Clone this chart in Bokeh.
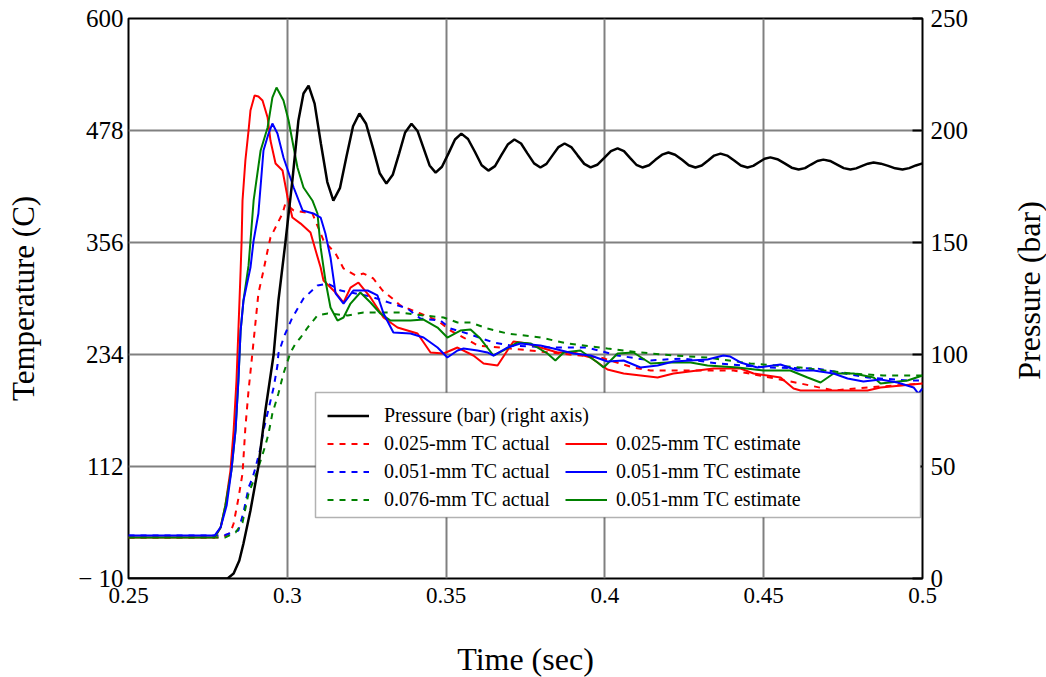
import math
from bokeh.plotting import figure
from bokeh.layouts import row
from bokeh.models import (Range1d, LinearAxis, FixedTicker, Legend, LegendItem,
                          BoxAnnotation)
from bokeh.embed import file_html
from bokeh.resources import INLINE

# ---------------- data ----------------
# Pressure (bar), right axis
p_time = [0.25, 0.2812, 0.2831, 0.2849, 0.2862, 0.2884, 0.2909, 0.2931, 0.2957, 0.2972,
          0.2994, 0.3016, 0.3035, 0.3051, 0.3067,
          0.3086, 0.3106, 0.3126, 0.3145,
          0.3166, 0.3186, 0.3207, 0.3227,
          0.3248, 0.3270, 0.3291, 0.3312,
          0.3332, 0.3352, 0.3371, 0.3391,
          0.3410, 0.3429, 0.3448, 0.3467,
          0.3487, 0.3508, 0.3528, 0.3548,
          0.3569, 0.3591, 0.3612, 0.3633,
          0.3654, 0.3674, 0.3695, 0.3715,
          0.3736, 0.3756, 0.3777, 0.3797,
          0.3816, 0.3835, 0.3854, 0.3873,
          0.3894, 0.3914, 0.3935, 0.3955,
          0.3976, 0.3998, 0.4019, 0.4040,
          0.4060, 0.4079, 0.4099, 0.4118,
          0.4139, 0.4159, 0.4180, 0.4200,
          0.4221, 0.4243, 0.4264, 0.4285,
          0.4305, 0.4325, 0.4344, 0.4364,
          0.4385, 0.4407, 0.4428, 0.4449,
          0.4467, 0.4485, 0.4503, 0.4521,
          0.4543, 0.4566, 0.4588, 0.4610,
          0.4630, 0.4649, 0.4669, 0.4688,
          0.4709, 0.4731, 0.4752, 0.4773,
          0.4791, 0.4810, 0.4828, 0.4846,
          0.4869, 0.4892, 0.4914, 0.4937,
          0.4958, 0.4979, 0.5]
pressure = [0, 0, 2.2, 8.0, 15.6, 30.4, 50, 75, 100, 124,
            150, 177.7, 204.5, 216.5, 220,
            212, 194, 177, 168.7,
            174.4, 188.2, 201.9, 207.6,
            203.0, 192.0, 180.9, 176.3,
            180.2, 189.7, 199.1, 203.0,
            199.8, 192.1, 184.4, 181.2,
            183.8, 189.9, 196.0, 198.6,
            196.2, 190.4, 184.5, 182.1,
            184.1, 189.0, 193.9, 196.0,
            194.2, 189.8, 185.3, 183.5,
            185.1, 188.9, 192.6, 194.2,
            192.6, 188.9, 185.1, 183.5,
            184.7, 187.8, 190.8, 192.0,
            190.8, 187.8, 184.7, 183.5,
            184.5, 186.9, 189.2, 190.2,
            189.2, 186.9, 184.5, 183.5,
            184.4, 186.6, 188.8, 189.7,
            188.8, 186.6, 184.4, 183.5,
            184.2, 185.8, 187.4, 188.0,
            187.2, 185.3, 183.4, 182.6,
            183.2, 184.8, 186.4, 187.0,
            186.4, 184.8, 183.2, 182.6,
            183.1, 184.2, 185.2, 185.7,
            185.2, 184.2, 183.1, 182.6,
            183.2, 184.4, 185.3]

# 0.025-mm TC estimate (red solid)
r_est_t = [0.25, 0.2771, 0.2790, 0.2805, 0.2821, 0.2831, 0.2840, 0.2846, 0.2853, 0.2856,
           0.2859, 0.2868, 0.2878, 0.2884, 0.2897, 0.2909, 0.2922, 0.2938, 0.2947, 0.2963,
           0.2985, 0.3001, 0.3016, 0.3042, 0.3073, 0.3092, 0.3105, 0.3114, 0.3152, 0.3177,
           0.3199, 0.3224, 0.3262, 0.3303, 0.3347, 0.3410, 0.3451, 0.3492, 0.3536, 0.3586,
           0.3618, 0.3662, 0.3693, 0.3712, 0.3756, 0.3797, 0.3851, 0.3901, 0.3955, 0.4008,
           0.4059, 0.4166, 0.4216, 0.4342, 0.4427, 0.4468, 0.4553, 0.4594, 0.4616, 0.4827,
           0.4868, 0.5]
r_est = [34.7, 34.7, 45.6, 69.5, 107.6, 151.2, 205.7, 260.1, 325.5, 356.0,
         401.8, 445.3, 478.0, 499.8, 516.1, 515.0, 510.7, 492.2, 467.1, 442.1,
         434.4, 405.0, 383.2, 376.6, 366.8, 344.0, 328.7, 314.6, 301.5, 290.6,
         306.9, 312.4, 296.1, 274.3, 263.4, 256.9, 236.2, 235.1, 241.6, 232.9,
         224.2, 222.0, 238.4, 248.2, 246.0, 241.6, 236.2, 236.2, 230.7, 217.6,
         213.3, 208.9, 213.3, 218.7, 218.7, 213.3, 208.9, 196.9, 194.8, 194.8,
         198.1, 202.4]

# 0.051-mm TC estimate (blue solid)
b_est_t = [0.25, 0.2771, 0.2790, 0.2809, 0.2824, 0.2837, 0.2846, 0.2853, 0.2862, 0.2884,
           0.2894, 0.2909, 0.2925, 0.2941, 0.2953, 0.2969, 0.2988, 0.3020, 0.3048, 0.3082,
           0.3105, 0.3120, 0.3136, 0.3152, 0.3177, 0.3208, 0.3253, 0.3284, 0.3303, 0.3334,
           0.3388, 0.3429, 0.3473, 0.3504, 0.3536, 0.3555, 0.3599, 0.3630, 0.3649, 0.3693,
           0.3734, 0.3797, 0.3838, 0.3901, 0.3955, 0.4008, 0.4059, 0.4112, 0.4166, 0.4216,
           0.4323, 0.4373, 0.4395, 0.4427, 0.4480, 0.4553, 0.4606, 0.4657, 0.4720, 0.4764,
           0.4814, 0.4868, 0.4921, 0.4972, 0.4987, 0.5]
b_est = [36.8, 36.8, 45.6, 69.5, 107.6, 151.2, 205.7, 260.1, 292.8, 328.7,
         358.2, 387.6, 456.2, 474.7, 485.6, 474.7, 448.6, 415.9, 390.9, 387.6,
         383.2, 365.8, 339.7, 300.5, 289.5, 303.7, 303.7, 298.3, 278.7, 258.0,
         256.9, 252.5, 241.6, 230.7, 238.4, 240.5, 238.4, 236.2, 232.9, 241.6,
         246.0, 243.8, 240.5, 235.1, 232.9, 226.4, 227.5, 219.8, 222.0, 226.4,
         228.6, 232.9, 231.8, 225.3, 219.8, 223.1, 216.6, 216.6, 213.3, 207.9,
         204.6, 206.8, 203.5, 198.1, 191.5, 197.0]

# 0.051-mm TC estimate (green solid)
g_est_t = [0.25, 0.2771, 0.2790, 0.2805, 0.2824, 0.2837, 0.2846, 0.2853, 0.2862, 0.2878,
           0.2894, 0.2916, 0.2938, 0.2953, 0.2966, 0.2988, 0.3004, 0.3020, 0.3032, 0.3051,
           0.3079, 0.3095, 0.3105, 0.3120, 0.3136, 0.3158, 0.3177, 0.3199, 0.3230, 0.3262,
           0.3293, 0.3325, 0.3388, 0.3429, 0.3473, 0.3504, 0.3545, 0.3577, 0.3608, 0.3649,
           0.3681, 0.3725, 0.3766, 0.3819, 0.3844, 0.3870, 0.3923, 0.3977, 0.3996, 0.4040,
           0.4090, 0.4144, 0.4197, 0.4270, 0.4323, 0.4418, 0.4499, 0.4584, 0.4638, 0.4679,
           0.4720, 0.4783, 0.4846, 0.4868, 0.4953, 0.5]
g_est = [34.7, 34.7, 45.6, 69.5, 107.6, 151.2, 205.7, 260.1, 292.8, 331.0,
         401.8, 456.2, 481.3, 513.9, 524.8, 510.7, 488.9, 459.5, 437.7, 415.9,
         401.8, 387.6, 350.6, 314.6, 285.2, 271.0, 274.3, 289.5, 301.5, 290.6,
         278.7, 271.0, 271.0, 272.1, 263.4, 252.5, 260.1, 261.2, 251.4, 232.9,
         238.4, 247.1, 246.0, 235.1, 227.5, 236.2, 238.4, 225.3, 219.8, 235.1,
         236.2, 224.2, 225.3, 225.3, 222.0, 219.8, 216.6, 216.6, 208.9, 203.5,
         213.3, 213.3, 208.9, 202.4, 205.7, 211.1]

# 0.025-mm TC actual (red dashed)
r_act_t = [0.25, 0.2796, 0.2821, 0.2831, 0.2846, 0.2859, 0.2868, 0.2878, 0.2890, 0.2909,
           0.2925, 0.2938, 0.2947, 0.2969, 0.2985, 0.2994, 0.3020, 0.3079, 0.3114, 0.3152,
           0.3177, 0.3215, 0.3240, 0.3271, 0.3300, 0.3331, 0.3356, 0.3419, 0.3473, 0.3514,
           0.3555, 0.3599, 0.3703, 0.3986, 0.4090, 0.4144, 0.4405, 0.4616, 0.4720, 0.4827,
           0.5]
r_act = [34.7, 34.7, 40.1, 49.9, 77.1, 104.4, 154.5, 194.8, 235.1, 300.5,
         325.5, 347.3, 361.4, 376.7, 387.6, 398.5, 390.9, 387.6, 358.2, 344.0,
         327.7, 320.1, 322.2, 316.8, 303.7, 295.0, 287.4, 278.7, 271.0, 260.1,
         252.5, 243.8, 240.5, 230.7, 219.8, 216.6, 216.6, 202.4, 194.8, 198.1,
         202.4]

# 0.051-mm TC actual (blue dashed)
b_act_t = [0.25, 0.2799, 0.2846, 0.2862, 0.2878, 0.2890, 0.2900, 0.2916, 0.2925, 0.2957,
           0.2969, 0.2972, 0.2991, 0.3016, 0.3051, 0.3095, 0.3127, 0.3168, 0.3262, 0.3378,
           0.3419, 0.3482, 0.3514, 0.3567, 0.3649, 0.3703, 0.3829, 0.3945, 0.4040, 0.4144,
           0.4247, 0.4355, 0.4512, 0.4669, 0.4827, 0.4953, 0.5]
b_act = [36.8, 36.8, 42.3, 61.9, 89.1, 98.9, 110.9, 132.7, 151.2, 198.1,
         222.0, 235.1, 254.7, 274.3, 295.0, 309.2, 311.3, 303.7, 297.2, 284.1,
         273.2, 271.0, 262.3, 256.9, 247.1, 243.8, 241.6, 241.6, 232.9, 227.5,
         229.7, 224.2, 219.8, 218.7, 208.9, 205.7, 205.7]

# 0.076-mm TC actual (green dashed)
g_act_t = [0.25, 0.2805, 0.2837, 0.2859, 0.2878, 0.2906, 0.2931, 0.2941, 0.2953, 0.2972,
           0.2988, 0.3010, 0.3026, 0.3042, 0.3064, 0.3095, 0.3127, 0.3190, 0.3240, 0.3356,
           0.3429, 0.3492, 0.3536, 0.3577, 0.3630, 0.3693, 0.3797, 0.3882, 0.4008, 0.4112,
           0.4216, 0.4323, 0.4458, 0.4616, 0.4773, 0.4877, 0.5]
g_act = [34.7, 34.7, 40.1, 51.0, 82.6, 107.6, 134.9, 148.0, 169.7, 191.5,
         213.3, 236.2, 246.0, 252.5, 263.4, 276.5, 278.7, 276.5, 279.8, 279.8,
         276.5, 274.3, 268.9, 268.9, 262.3, 256.9, 252.5, 246.0, 240.5, 236.2,
         232.9, 230.7, 224.2, 219.8, 213.3, 211.1, 211.1]

x_ticks = [0.25, 0.3, 0.35, 0.4, 0.45, 0.5]
x_tick_labels = ["0.25", "0.3", "0.35", "0.4", "0.45", "0.5"]
t_ticks = [-10, 112, 234, 356, 478, 600]
t_tick_labels = ["\u2212 10", "112", "234", "356", "478", "600"]
p_ticks = [0, 50, 100, 150, 200, 250]
right_title = ["Pressure (bar)"]

RED = "#FF0000"
BLUE = "#0000FF"
GREEN = "#008000"
FONT = "Liberation Serif"

p = figure(frame_width=794, frame_height=560,
           x_range=Range1d(0.25, 0.5), y_range=Range1d(-10, 600),
           output_backend="svg", toolbar_location=None,
           min_border_left=128, min_border_right=86, min_border_top=18,
           min_border_bottom=95, outline_line_color="black", outline_line_width=2)
p.background_fill_color = "white"
p.border_fill_color = "white"

p.extra_y_ranges = {"press": Range1d(0, 250)}

# grids
for g in (p.xgrid, p.ygrid):
    g.grid_line_color = "#808080"
    g.grid_line_width = 2
p.xgrid.ticker = FixedTicker(ticks=x_ticks)
p.ygrid.ticker = FixedTicker(ticks=t_ticks)

# axes
xa = p.xaxis[0]
xa.ticker = FixedTicker(ticks=x_ticks)
xa.major_label_overrides = {t: s for t, s in zip(x_ticks, x_tick_labels)}
xa.axis_label = "Time (sec)"
ya = p.yaxis[0]
ya.ticker = FixedTicker(ticks=t_ticks)
ya.major_label_overrides = {t: s for t, s in zip(t_ticks, t_tick_labels)}
ya.axis_label = "Temperature (C)"

ra = LinearAxis(y_range_name="press", ticker=FixedTicker(ticks=p_ticks))
p.add_layout(ra, "right")

for ax in (xa, ya, ra):
    ax.axis_line_color = None
    ax.major_tick_line_color = None
    ax.major_tick_out = 0
    ax.major_tick_in = 0
    ax.minor_tick_line_color = None
    ax.major_label_text_font = FONT
    ax.major_label_text_color = "black"
    ax.axis_label_text_font = FONT
    ax.axis_label_text_font_style = "normal"
    ax.axis_label_text_color = "black"
    ax.major_label_standoff = 5
xa.major_label_text_font_size = "23px"
ya.major_label_text_font_size = "25px"
ra.major_label_text_font_size = "25px"
xa.axis_label_text_font_size = "32px"
ya.axis_label_text_font_size = "31px"
xa.major_label_standoff = 9
xa.axis_label_standoff = 35
ya.axis_label_standoff = 34
ra.major_tick_line_color = "black"
ra.major_tick_line_width = 2
ra.major_tick_in = 10
ra.major_label_standoff = 8

# curves
lr_a = p.line(r_act_t, r_act, line_color=RED, line_width=2, line_dash="6 6")
lb_a = p.line(b_act_t, b_act, line_color=BLUE, line_width=2, line_dash="6 6")
lg_a = p.line(g_act_t, g_act, line_color=GREEN, line_width=2, line_dash="6 6")
lr_e = p.line(r_est_t, r_est, line_color=RED, line_width=2)
lg_e = p.line(g_est_t, g_est, line_color=GREEN, line_width=2)
lb_e = p.line(b_est_t, b_est, line_color=BLUE, line_width=2)
lp = p.line(p_time, pressure, line_color="black", line_width=2.5, y_range_name="press")

# legend box
box = BoxAnnotation(left=0.30888, right=0.49937, top=192.6, bottom=56.4,
                    fill_color="white", fill_alpha=1.0, line_color="black",
                    line_width=1.5, level="annotation")
p.add_layout(box)

def mk_legend(items, loc, standoff):
    lg = Legend(items=items, location=loc, orientation="vertical",
                border_line_color=None, background_fill_alpha=0,
                padding=0, margin=0, spacing=3, glyph_width=42, glyph_height=25,
                label_height=25, label_standoff=standoff,
                label_text_font=FONT, label_text_font_size="20px",
                label_text_color="black")
    return lg

leg_a = mk_legend([
    LegendItem(label="Pressure (bar) (right axis)", renderers=[lp]),
    LegendItem(label="0.025-mm TC actual", renderers=[lr_a]),
    LegendItem(label="0.051-mm TC actual", renderers=[lb_a]),
    LegendItem(label="0.076-mm TC actual", renderers=[lg_a]),
], (199, 66), 15)
leg_b = mk_legend([
    LegendItem(label="0.025-mm TC estimate", renderers=[lr_e]),
    LegendItem(label="0.051-mm TC estimate", renderers=[lb_e]),
    LegendItem(label="0.051-mm TC estimate", renderers=[lg_e]),
], (437, 66), 9)
p.add_layout(leg_a)
p.add_layout(leg_b)

# narrow side figure holding the right-axis title (reads bottom to top)
H = 676
W = 38
q = figure(width=W, height=H, x_range=Range1d(0, W), y_range=Range1d(0, H),
           output_backend="svg", toolbar_location=None, min_border=0,
           outline_line_color=None)
q.axis.visible = False
q.grid.visible = False
q.background_fill_color = "white"
q.border_fill_color = "white"
q.text(x=[20], y=[H - 298 - 32], text=right_title, angle=math.pi / 2,
       text_align="center", text_baseline="middle",
       text_font_size="32px", text_color="black",
       text_font={"value": FONT})

layout = row(p, q, spacing=0)
open("out.html", "w").write(file_html(layout, INLINE))
